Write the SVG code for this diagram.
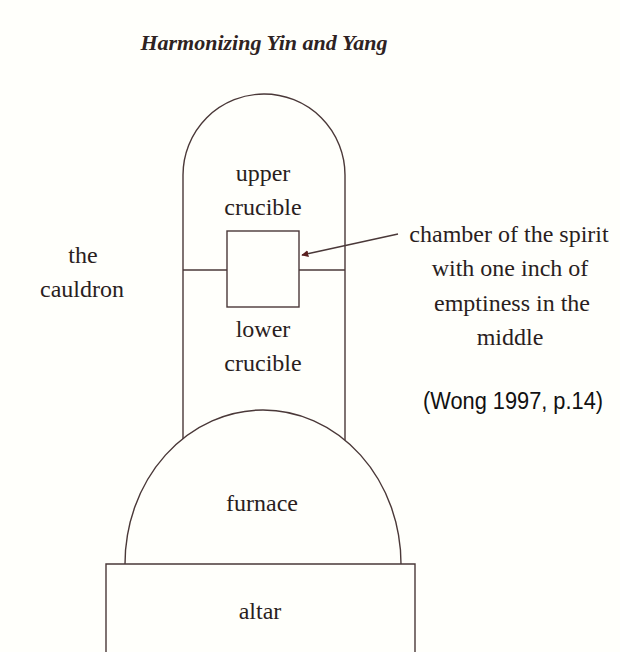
<svg xmlns="http://www.w3.org/2000/svg" width="620" height="652" viewBox="0 0 620 652">
<style>
.ln{fill:none;stroke:#4a3838;stroke-width:1.4}
.t{font-family:"Liberation Serif","Times New Roman",serif;font-size:24px;fill:#2a1e1e;text-anchor:middle}
.title{font-family:"Liberation Serif","Times New Roman",serif;font-size:22px;font-weight:bold;font-style:italic;fill:#2e2222;text-anchor:middle}
.cite{font-family:"Liberation Sans",Arial,sans-serif;font-size:23px;fill:#111;text-anchor:middle}
</style>
<defs>
<marker id="ah" viewBox="0 0 10 10" refX="9" refY="5" markerWidth="7" markerHeight="7" orient="auto" markerUnits="userSpaceOnUse">
<path d="M0,0 L10,5 L0,10 z" fill="#5a1f1f"/>
</marker>
</defs>
<rect width="620" height="652" fill="#fffffb"/>
<text class="title" x="264" y="50">Harmonizing Yin and Yang</text>
<g id="cauldron">
<path class="ln" d="M183,439 L183,175 A81,81 0 0 1 345,175 L345,440"/>
<text class="t" x="83" y="263">the</text>
<text class="t" x="82" y="297">cauldron</text>
</g>
<g id="upper-crucible">
<text class="t" x="263" y="181">upper</text>
<text class="t" x="263" y="215">crucible</text>
</g>
<g id="chamber">
<rect class="ln" x="227" y="231" width="72" height="76"/>
<line class="ln" x1="183" y1="270" x2="227" y2="270"/>
<line class="ln" x1="299" y1="270" x2="345" y2="270"/>
</g>
<g id="lower-crucible">
<text class="t" x="263" y="337">lower</text>
<text class="t" x="263" y="371">crucible</text>
</g>
<g id="furnace">
<path class="ln" d="M125,564 A138,154 0 0 1 401,564"/>
<text class="t" x="262" y="511">furnace</text>
</g>
<g id="altar">
<path class="ln" d="M106,652 L106,564 L415,564 L415,652"/>
<text class="t" x="260" y="619">altar</text>
</g>
<g id="label">
<text class="t" x="509" y="242">chamber of the spirit</text>
<text class="t" x="510" y="276">with one inch of</text>
<text class="t" x="512" y="311">emptiness in the</text>
<text class="t" x="510" y="345">middle</text>
</g>
<g id="connectors">
<line class="ln" x1="398" y1="234" x2="302" y2="255" marker-end="url(#ah)"/>
</g>
<text class="cite" x="513" y="409" textLength="180" lengthAdjust="spacingAndGlyphs">(Wong 1997, p.14)</text>
</svg>
